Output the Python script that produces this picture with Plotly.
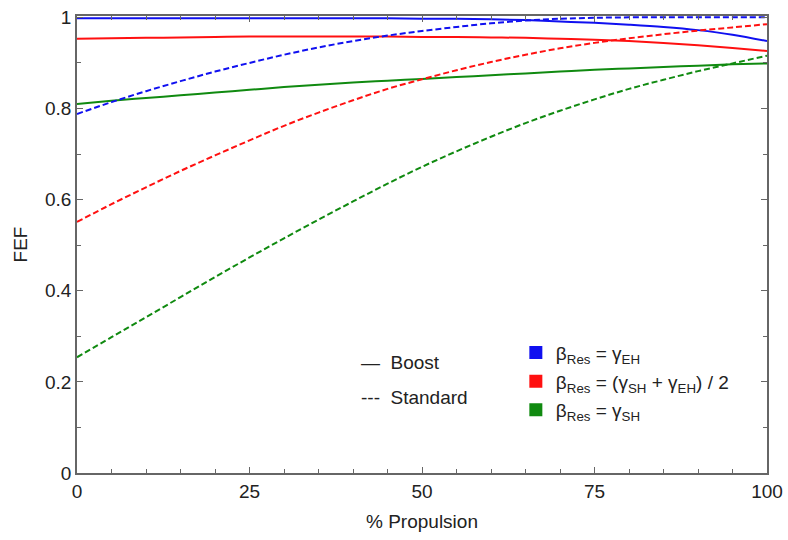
import plotly.graph_objects as go

propulsion = [0, 5, 10, 15, 20, 25, 30, 35, 40, 45, 50, 55, 60, 65, 70, 75, 80, 85, 90, 95, 100]

# Boost (solid)
boost_eh = [0.998, 0.998, 0.998, 0.998, 0.998, 0.998, 0.998, 0.998, 0.998, 0.998, 0.997, 0.997,
            0.996, 0.994, 0.991, 0.988, 0.984, 0.979, 0.972, 0.962, 0.948]
boost_mid = [0.953, 0.954, 0.955, 0.956, 0.957, 0.958, 0.958, 0.958, 0.958, 0.958, 0.957, 0.957,
             0.956, 0.955, 0.953, 0.951, 0.948, 0.944, 0.939, 0.933, 0.926]
boost_sh = [0.810, 0.817, 0.823, 0.829, 0.835, 0.841, 0.847, 0.852, 0.857, 0.861, 0.865, 0.869,
            0.873, 0.877, 0.881, 0.885, 0.888, 0.891, 0.894, 0.897, 0.899]

# Standard (dashed)
std_eh = [0.788, 0.814, 0.838, 0.860, 0.881, 0.900, 0.918, 0.934, 0.948, 0.960, 0.970, 0.979,
          0.987, 0.993, 0.997, 0.999, 1.000, 1.000, 1.000, 1.000, 1.000]
std_mid = [0.551, 0.590, 0.627, 0.663, 0.697, 0.730, 0.762, 0.791, 0.818, 0.843, 0.864, 0.884,
           0.902, 0.918, 0.932, 0.944, 0.954, 0.963, 0.971, 0.978, 0.985]
std_sh = [0.254, 0.298, 0.342, 0.386, 0.430, 0.473, 0.515, 0.556, 0.596, 0.635, 0.672, 0.706,
          0.738, 0.768, 0.795, 0.820, 0.843, 0.863, 0.882, 0.899, 0.916]

legend_names = ["β<sub>Res</sub> = γ<sub>EH</sub>",
                "β<sub>Res</sub> = (γ<sub>SH</sub> + γ<sub>EH</sub>) / 2",
                "β<sub>Res</sub> = γ<sub>SH</sub>"]
colors = ["#1010F0", "#FF1010", "#108A10"]

x_ticks = [0, 25, 50, 75, 100]
y_ticks = [0, 0.2, 0.4, 0.6, 0.8, 1.0]
y_labels = ["0", "0.2", "0.4", "0.6", "0.8", "1"]

FONT = "Liberation Sans Narrow, Arial Narrow, Liberation Sans, Arial, sans-serif"

fig = go.Figure()

for ys, c in zip([boost_eh, boost_mid, boost_sh], colors):
    fig.add_trace(go.Scatter(x=propulsion, y=ys, mode="lines", line=dict(color=c, width=2, shape="spline"),
                             showlegend=False, hoverinfo="skip"))
for ys, c in zip([std_eh, std_mid, std_sh], colors):
    fig.add_trace(go.Scatter(x=propulsion, y=ys, mode="lines",
                             line=dict(color=c, width=2, dash="6px,3px", shape="spline"),
                             showlegend=False, hoverinfo="skip"))

for i, (name, c) in enumerate(zip(legend_names, colors)):
    fig.add_trace(go.Scatter(x=[None], y=[None], mode="markers", name=name, legendgroup=f"g{i}",
                             marker=dict(symbol="square", size=13, color=c)))

axis_common = dict(showline=True, linecolor="#666666", linewidth=1.5, mirror="ticks",
                   ticks="inside", ticklen=6, tickcolor="#666666", tickwidth=1.2,
                   showgrid=False, zeroline=False, automargin=False,
                   tickfont=dict(family=FONT, size=19, color="#222222"))

fig.update_xaxes(range=[0, 100], tickvals=x_ticks,
                 title=dict(text="% Propulsion", font=dict(family=FONT, size=19, color="#222222"), standoff=14),
                 minor=dict(dtick=5, ticks="inside", ticklen=4, tickcolor="#666666"), **axis_common)
fig.update_yaxes(range=[0, 1.003], tickvals=y_ticks, ticktext=y_labels,
                 title=dict(text="FEF", font=dict(family=FONT, size=19, color="#222222"), standoff=12),
                 minor=dict(tickvals=[0.1, 0.3, 0.5, 0.7, 0.9], ticks="inside", ticklen=4, tickcolor="#666666"),
                 **axis_common)

fig.add_annotation(x=0.408, y=0.241, xref="paper", yref="paper", xanchor="left", yanchor="middle",
                   text="—  Boost", showarrow=False, font=dict(family=FONT, size=19, color="#222222"))
fig.add_annotation(x=0.408, y=0.166, xref="paper", yref="paper", xanchor="left", yanchor="middle",
                   text="---  Standard", showarrow=False, font=dict(family=FONT, size=19, color="#222222"))

fig.update_layout(
    width=788, height=540,
    margin=dict(l=77, r=21, t=16, b=67),
    plot_bgcolor="white", paper_bgcolor="white",
    font=dict(family=FONT, size=19, color="#222222"),
    legend=dict(x=0.636, y=0.305, xanchor="left", yanchor="top", bgcolor="rgba(0,0,0,0)",
                tracegroupgap=1, font=dict(family=FONT, size=19, color="#222222")),
)

fig.write_html("out.html", config={"displayModeBar": False},
               post_script="document.body.style.margin='0px';")
